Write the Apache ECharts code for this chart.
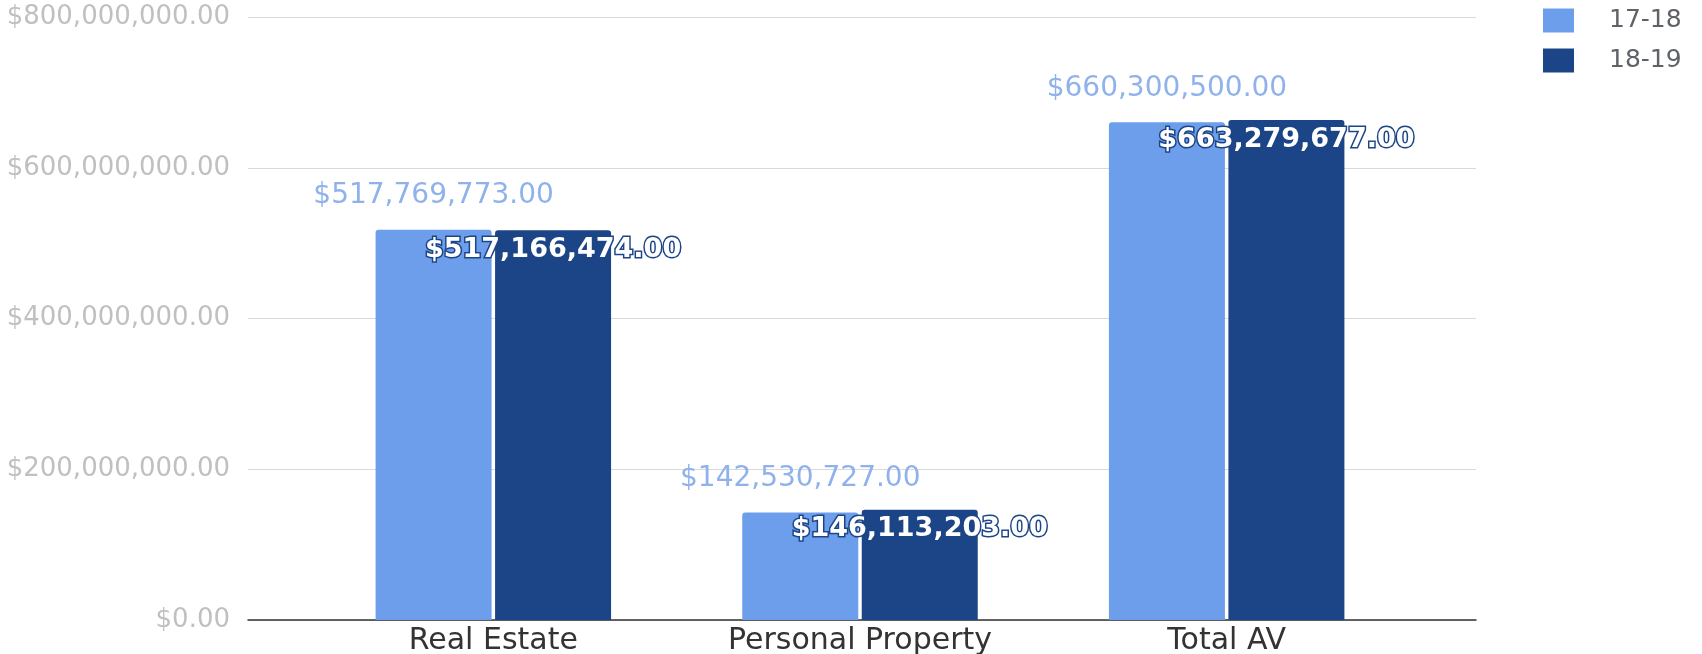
<!DOCTYPE html>
<html>
<head>
<meta charset="utf-8">
<script src="https://cdn.jsdelivr.net/npm/echarts@6/dist/echarts.min.js"></script>
<style>
  html, body { margin: 0; padding: 0; background: #fff; }
  #chart { width: 1702px; height: 654px; }
</style>
</head>
<body>
<div id="chart"></div>
<script>
const categories = ['Real Estate', 'Personal Property', 'Total AV'];
const seriesNames = ['17-18', '18-19'];
const values1718 = [517769773, 142530727, 660300500];
const values1819 = [517166474, 146113203, 663279677];
const yTicks = [0, 200000000, 400000000, 600000000, 800000000];

const FONT = 'DejaVu Sans';
const money = v => '$' + Number(v).toLocaleString('en-US', { minimumFractionDigits: 2, maximumFractionDigits: 2 });

const chart = echarts.init(document.getElementById('chart'));

const option = {
  animation: false,
  textStyle: { fontFamily: FONT },
  legend: {
    data: seriesNames,
    orient: 'vertical',
    left: 1543,
    top: 8,
    padding: 0,
    itemWidth: 31,
    itemHeight: 24,
    itemGap: 15,
    icon: 'rect',
    itemStyle: { borderRadius: 2 },
    textStyle: { fontFamily: FONT, fontSize: 25, color: '#5f6368', padding: [0, 0, 0, 30] }
  },
  grid: [
    { left: 248, right: 226, top: 17, bottom: 34, outerBoundsMode: 'none' },
    { left: 310, right: 292, top: 17, bottom: 34, outerBoundsMode: 'none' }
  ],
  xAxis: [
    {
      type: 'value', gridIndex: 0, min: 0, max: 1,
      axisLine: { show: true, onZero: false, lineStyle: { color: '#333', width: 1.5 } },
      axisTick: { show: false }, axisLabel: { show: false }, splitLine: { show: false }
    },
    {
      type: 'category', gridIndex: 1, data: categories,
      axisLine: { show: false }, axisTick: { show: false },
      axisLabel: { fontFamily: FONT, fontSize: 30, color: '#333', margin: 6 }
    }
  ],
  yAxis: [
    {
      type: 'value', gridIndex: 0,
      min: yTicks[0], max: yTicks[yTicks.length - 1], interval: yTicks[1] - yTicks[0],
      axisLine: { show: false }, axisTick: { show: false },
      axisLabel: { fontFamily: FONT, fontSize: 26, color: '#c0c0c0', margin: 18, formatter: money },
      splitLine: { lineStyle: { color: '#d9d9d9', width: 1 } }
    },
    {
      type: 'value', gridIndex: 1,
      min: yTicks[0], max: yTicks[yTicks.length - 1],
      show: false, splitLine: { show: false }
    }
  ],
  series: [
    {
      name: seriesNames[0], type: 'bar', xAxisIndex: 1, yAxisIndex: 1,
      data: values1718, barWidth: 116, barGap: '3%',
      itemStyle: { color: '#6d9eeb', borderRadius: [3, 3, 0, 0] },
      label: {
        show: true, position: 'top', distance: 20,
        fontFamily: FONT, fontSize: 28, color: '#8fb2ec',
        formatter: p => money(p.value)
      }
    },
    {
      name: seriesNames[1], type: 'bar', xAxisIndex: 1, yAxisIndex: 1,
      data: values1819, barWidth: 116, barGap: '3%',
      itemStyle: { color: '#1c4587', borderRadius: [3, 3, 0, 0] },
      label: {
        show: true, position: 'insideTop', distance: 6,
        fontFamily: FONT, fontSize: 27, fontWeight: 'bold', color: '#fff',
        textBorderColor: '#1c4587', textBorderWidth: 3,
        formatter: p => money(p.value)
      }
    }
  ]
};

chart.setOption(option);
window.addEventListener('resize', () => chart.resize());
</script>
</body>
</html>
